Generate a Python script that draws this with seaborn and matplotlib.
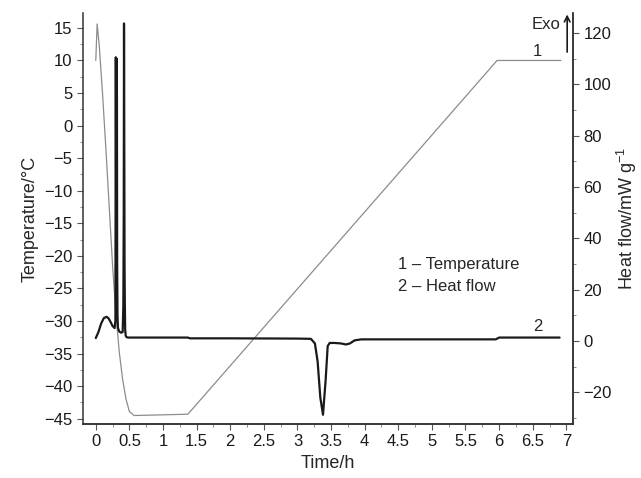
# -*- coding: utf-8 -*-
import matplotlib
matplotlib.use('Agg')
import matplotlib.pyplot as plt
from matplotlib.ticker import MultipleLocator, FixedLocator
import pandas as pd
import seaborn as sns

# temperature programme (curve 1), time in h, temperature in deg C
temp_time = [0.0, 0.02, 0.05, 0.10, 0.15, 0.20, 0.25, 0.30, 0.35, 0.40, 0.45,
             0.50, 0.57, 1.37, 5.97, 6.92]
temp_values = [10.0, 15.6, 12.5, 5.0, -3.5, -12.5, -21.5, -29.0, -34.8, -39.0,
               -42.0, -43.9, -44.5, -44.3, 10.0, 10.0]

# heat flow (curve 2), time in h, heat flow in mW/g
hf_time = [0.0, 0.04, 0.08, 0.12, 0.16, 0.19, 0.22, 0.25, 0.28, 0.292, 0.298,
           0.302, 0.306, 0.310, 0.314, 0.318, 0.323, 0.33, 0.35, 0.38, 0.40,
           0.410, 0.416, 0.420, 0.424, 0.428, 0.432, 0.437, 0.445, 0.46, 0.49,
           0.55, 1.0, 1.37, 1.40, 2.0, 3.0, 3.20, 3.26, 3.30, 3.34, 3.38, 3.42,
           3.45, 3.48, 3.55, 3.65, 3.72, 3.78, 3.85, 3.95, 4.5, 5.0, 5.95, 6.0,
           6.9]
hf_values = [1.1, 3.5, 6.8, 8.9, 9.4, 8.8, 7.4, 5.8, 5.0, 8.0, 110.6,
             60.0, 18.0, 20.0, 110.0, 30.0, 10.0, 5.0, 3.6, 3.2, 3.5,
             14.0, 50.0, 123.8, 78.0, 30.0, 15.0, 4.5, 2.0, 1.4, 1.3,
             1.3, 1.3, 1.3, 1.0, 1.0, 0.9, 0.8, -1.0, -8.0, -22.0, -28.8, -15.0,
             -2.0, -0.8, -0.8, -1.0, -1.4, -1.0, 0.2, 0.6, 0.6, 0.6, 0.6, 1.3,
             1.3]

xticks = [0, 0.5, 1, 1.5, 2, 2.5, 3, 3.5, 4, 4.5, 5, 5.5, 6, 6.5, 7]
xtick_labels = ['0', '0.5', '1', '1.5', '2', '2.5', '3', '3.5', '4', '4.5',
                '5', '5.5', '6', '6.5', '7']
temp_ticks = [15, 10, 5, 0, -5, -10, -15, -20, -25, -30, -35, -40, -45]
temp_tick_labels = ['15', '10', '5', '0', '\u22125', '\u221210', '\u221215',
                    '\u221220', '\u221225', '\u221230', '\u221235', '\u221240',
                    '\u221245']
hf_ticks = [-20, 0, 20, 40, 60, 80, 100, 120]
hf_tick_labels = ['\u221220', '0', '20', '40', '60', '80', '100', '120']

temp_df = pd.DataFrame({'time': temp_time, 'temp': temp_values})
hf_df = pd.DataFrame({'time': hf_time, 'hf': hf_values})

sns.set_style('ticks')
plt.rcParams['font.family'] = ['Liberation Sans', 'DejaVu Sans']
plt.rcParams['mathtext.fontset'] = 'custom'
plt.rcParams['mathtext.rm'] = 'Liberation Sans'
plt.rcParams['mathtext.it'] = 'Liberation Sans'

fig = plt.figure(figsize=(6.41, 4.78), dpi=100)
ax = fig.add_axes([0.1295, 0.113, 0.7645, 0.86])
ax2 = ax.twinx()

sns.lineplot(data=temp_df, x='time', y='temp', color='#8c8c8c', linewidth=0.9,
             estimator=None, sort=False, ax=ax)
sns.lineplot(data=hf_df, x='time', y='hf', color='#1a1a1a', linewidth=1.6,
             estimator=None, sort=False, ax=ax2)

ax.set_xlim(-0.19, 7.1)
ax.set_ylim(-45.8, 17.3)
ax2.set_ylim(-32.4, 127.9)

ax.xaxis.set_major_locator(FixedLocator(xticks))
ax.set_xticklabels(xtick_labels)
ax.xaxis.set_minor_locator(MultipleLocator(0.25))
ax.yaxis.set_major_locator(FixedLocator(temp_ticks))
ax.set_yticklabels(temp_tick_labels)
ax.yaxis.set_minor_locator(MultipleLocator(2.5))
ax2.yaxis.set_major_locator(FixedLocator(hf_ticks))
ax2.set_yticklabels(hf_tick_labels)
ax2.yaxis.set_minor_locator(MultipleLocator(10))

for a in (ax, ax2):
    a.spines['top'].set_visible(False)
    for s in a.spines.values():
        s.set_color('#333333')
        s.set_linewidth(1.1)
    a.tick_params(which='major', length=4, width=0.8, color='#555555',
                  labelsize=12, labelcolor='#1a1a1a', direction='out')
    a.tick_params(which='minor', length=2.5, width=0.6, color='#777777',
                  direction='out')
ax2.spines['left'].set_visible(False)

ax.set_xlabel('Time/h', fontsize=13, labelpad=4)
ax.set_ylabel('Temperature/\u00b0C', fontsize=13, labelpad=4)
ax2.set_ylabel('Heat flow/mW g$^{\\mathregular{-1}}$', fontsize=13, labelpad=2)

ax.text(6.57, 11.3, '1', fontsize=12, ha='center', va='center')
ax2.text(6.57, 5.5, '2', fontsize=12, ha='center', va='center')
ax2.text(4.5, 29.6, '1 \u2013 Temperature', fontsize=12, ha='left', va='center')
ax2.text(4.5, 21.4, '2 \u2013 Heat flow', fontsize=12, ha='left', va='center')

ax.text(0.945, 0.971, 'Exo', transform=ax.transAxes, fontsize=12,
        ha='center', va='center')
ax.annotate('', xy=(0.988, 1.003), xytext=(0.988, 0.898),
            xycoords='axes fraction', textcoords='axes fraction',
            arrowprops=dict(arrowstyle='->', color='#1a1a1a', lw=1.2),
            annotation_clip=False)

fig.savefig('out.png', dpi=100)
